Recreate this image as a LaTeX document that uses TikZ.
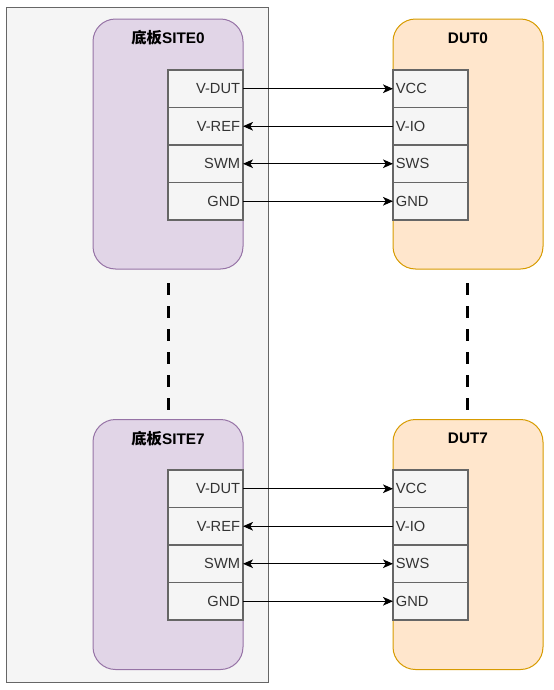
\documentclass[tikz,border=0pt]{standalone}
\usepackage{fontspec}
\setmainfont{Liberation Sans}
\newfontfamily\cjk{Noto Sans CJK SC}
\usetikzlibrary{arrows.meta}
\definecolor{outerfill}{HTML}{F5F5F5}
\definecolor{outerstroke}{HTML}{666666}
\definecolor{boardfill}{HTML}{E1D5E7}
\definecolor{boardstroke}{HTML}{9673A6}
\definecolor{dutfill}{HTML}{FFE6CC}
\definecolor{dutstroke}{HTML}{D79B00}
\definecolor{cellfill}{HTML}{F5F5F5}
\definecolor{cellstroke}{HTML}{666666}
\definecolor{celltext}{HTML}{333333}
\begin{document}
\begin{tikzpicture}[x=0.75pt,y=-0.75pt,
  every node/.style={inner sep=0pt, outer sep=0pt},
  outerbox/.style={draw=outerstroke, fill=outerfill, line width=0.75pt, minimum width=196.5pt, minimum height=506.25pt},
  board/.style={draw=boardstroke, fill=boardfill, line width=0.75pt, rounded corners=16.9pt, minimum width=112.5pt, minimum height=187.5pt},
  dutbox/.style={draw=dutstroke, fill=dutfill, line width=0.75pt, rounded corners=16.9pt, minimum width=112.5pt, minimum height=187.5pt},
  cellbase/.style={draw=cellstroke, fill=cellfill, text=celltext, line width=0.9pt, minimum width=56.25pt, minimum height=28.125pt, inner xsep=2.2pt, text width=51.85pt, font=\fontsize{11}{13}\selectfont},
  cellL/.style={cellbase, align=right},
  cellR/.style={cellbase, align=left},
  title/.style={font=\bfseries\fontsize{11.5}{13}\selectfont, text=black},
  wire/.style={line width=0.75pt, draw=black},
  tip/.style={-{Stealth[length=7.5pt,width=6.5pt,inset=2pt]}},
  tips/.style={{Stealth[length=7.5pt,width=6.5pt,inset=2pt]}-{Stealth[length=7.5pt,width=6.5pt,inset=2pt]}},
  dots/.style={line width=2.25pt, dash pattern=on 9pt off 8.25pt}
]
\useasboundingbox (0,0) rectangle (554,690);
\node[outerbox] (outer) at (137,344.5) {};
% top
\node[board] (b0) at (168,144) {};
\node[title] (b0t) at (168,38) {{\cjk 底板}SITE0};
\node[dutbox] (d0) at (468,144) {};
\node[title] (d0t) at (468,38) {DUT0};
\foreach \i/\y/\l/\r in {1/88.75/V-DUT/VCC,2/126.25/V-REF/V-IO,3/163.75/SWM/SWS,4/201.25/GND/GND}{
  \node[cellL] (a\i) at (205.5,\y) {\l};
  \node[cellR] (c\i) at (430.5,\y) {\r};
}
% bottom
\node[board] (b7) at (168,544.5) {};
\node[title] (b7t) at (168,438.5) {{\cjk 底板}SITE7};
\node[dutbox] (d7) at (468,544.5) {};
\node[title] (d7t) at (468,438.5) {DUT7};
\foreach \i/\y/\l/\r in {1/488.75/V-DUT/VCC,2/526.25/V-REF/V-IO,3/563.75/SWM/SWS,4/601.25/GND/GND}{
  \node[cellL] (e\i) at (205.5,\y) {\l};
  \node[cellR] (f\i) at (430.5,\y) {\r};
}
% wires
\draw[wire,tip] (a1.east) -- (c1.west);
\draw[wire,tip] (c2.west) -- (a2.east);
\draw[wire,tips] (a3.east) -- (c3.west);
\draw[wire,tip] (a4.east) -- (c4.west);
\draw[wire,tip] (e1.east) -- (f1.west);
\draw[wire,tip] (f2.west) -- (e2.east);
\draw[wire,tips] (e3.east) -- (f3.west);
\draw[wire,tip] (e4.east) -- (f4.west);
% dashed
\coordinate (p1) at (168,283);
\coordinate (p2) at (168,410);
\coordinate (q1) at (467,283);
\coordinate (q2) at (467,410);
\draw[dots] (p1) -- (p2);
\draw[dots] (q1) -- (q2);
\end{tikzpicture}
\end{document}
